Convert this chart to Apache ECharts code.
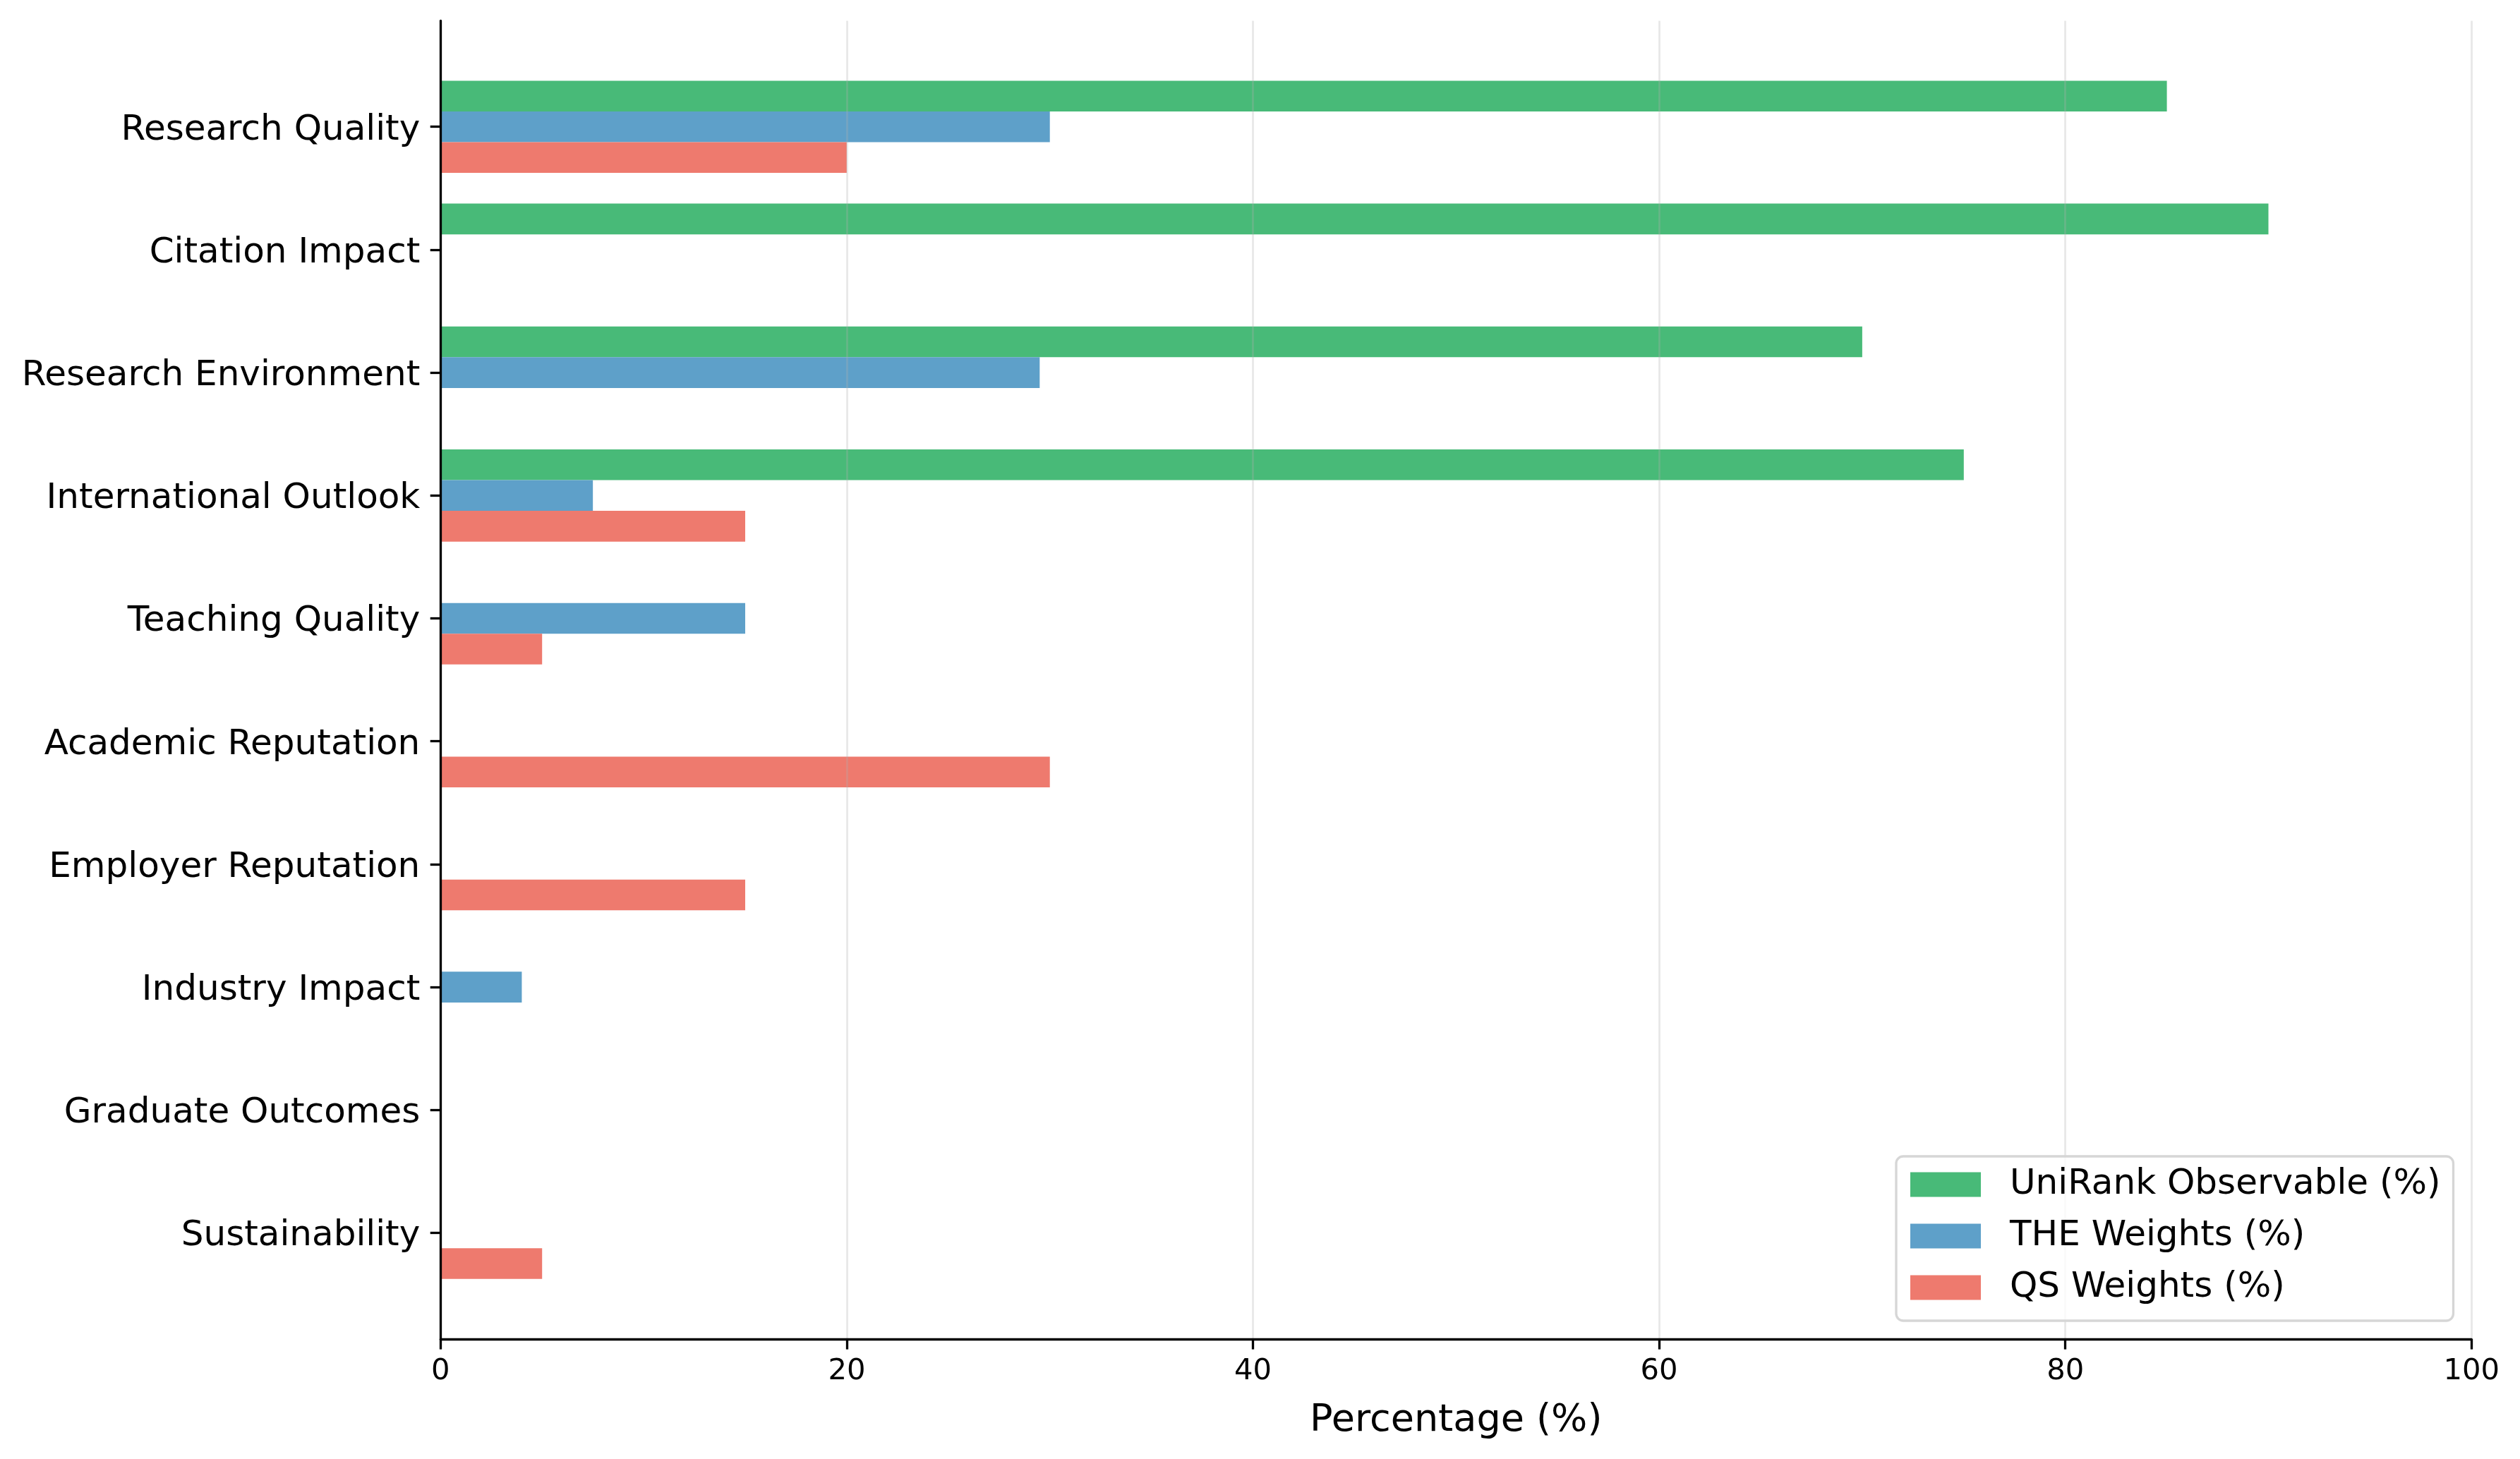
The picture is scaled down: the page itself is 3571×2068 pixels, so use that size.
<!DOCTYPE html>
<html>
<head>
<meta charset="utf-8">
<script src="https://cdn.jsdelivr.net/npm/echarts@6/dist/echarts.min.js"></script>
<style>
html,body{margin:0;padding:0;background:#fff;}
#chart{width:3571px;height:2068px;}
</style>
</head>
<body>
<div id="chart"></div>
<script>
const categories = ['Research Quality','Citation Impact','Research Environment','International Outlook','Teaching Quality','Academic Reputation','Employer Reputation','Industry Impact','Graduate Outcomes','Sustainability'];
const unirankObservable = [85, 90, 70, 75, 0, 0, 0, 0, 0, 0];
const theWeights = [30, 0, 29.5, 7.5, 15, 0, 0, 4, 0, 0];
const qsWeights = [20, 0, 0, 15, 5, 30, 15, 0, 0, 5];
const xTicks = [0, 20, 40, 60, 80, 100];
const seriesNames = ['UniRank Observable (%)', 'THE Weights (%)', 'QS Weights (%)'];
const colors = ['#48BA78', '#5EA0C9', '#EE7A6E'];

const FONT = 'DejaVu Sans';
const chart = echarts.init(document.getElementById('chart'), null, {renderer: 'canvas'});

const L = 624.3, R = 3571 - 3502.3;
const outerTop = 29.4, outerBottom = 2068 - 1898;
const catStep = 174.2;
const firstCenter = 179.7;
const innerTop = firstCenter - catStep / 2;
const innerHeight = catStep * categories.length;

chart.setOption({
  backgroundColor: '#ffffff',
  animation: false,
  textStyle: {fontFamily: FONT},
  grid: [
    {left: L, right: R, top: outerTop, bottom: outerBottom, containLabel: false},
    {left: L, right: R, top: innerTop, height: innerHeight, containLabel: false}
  ],
  xAxis: [
    {
      gridIndex: 0, type: 'value', min: xTicks[0], max: xTicks[xTicks.length - 1], interval: 20,
      z: 10,
      name: 'Percentage (%)', nameLocation: 'middle', nameGap: 89,
      nameTextStyle: {fontSize: 54, color: '#000', fontFamily: FONT},
      axisLine: {show: true, lineStyle: {color: '#000', width: 3.3}},
      axisTick: {show: true, length: 14.6, lineStyle: {color: '#000', width: 3.3}},
      axisLabel: {show: true, fontSize: 41.7, color: '#000', margin: 25, fontFamily: FONT},
      splitLine: {show: true, lineStyle: {color: 'rgba(176,176,176,0.3)', width: 2.7}}
    },
    {
      gridIndex: 1, type: 'value', min: 0, max: 100, show: false
    }
  ],
  yAxis: [
    {
      gridIndex: 0, type: 'value', min: 0, max: 1, z: 10,
      axisLine: {show: true, lineStyle: {color: '#000', width: 3.3}},
      axisTick: {show: false}, axisLabel: {show: false}, splitLine: {show: false}
    },
    {
      gridIndex: 1, type: 'category', data: categories, inverse: true,
      axisLine: {show: false},
      axisTick: {show: true, alignWithLabel: true, length: 14.6, lineStyle: {color: '#000', width: 3.3}},
      axisLabel: {show: true, interval: 0, fontSize: 50, color: '#000', margin: 29, fontFamily: FONT,
                  verticalAlign: 'top', lineHeight: 10},
      splitLine: {show: false}
    }
  ],
  legend: {
    orient: 'vertical',
    left: 2687, top: 1639,
    z: 20,
    data: seriesNames,
    icon: 'rect',
    itemWidth: 100, itemHeight: 35, itemGap: 23,
    padding: [15, 18, 22, 20],
    backgroundColor: 'rgba(255,255,255,0.8)',
    borderColor: '#d6d6d6', borderWidth: 3.3, borderRadius: 10,
    textStyle: {fontSize: 50, color: '#000', fontFamily: FONT, padding: [0, 0, 0, 36], lineHeight: 50}
  },
  series: [
    {name: seriesNames[0], type: 'bar', xAxisIndex: 1, yAxisIndex: 1, data: unirankObservable,
     itemStyle: {color: colors[0]}, barGap: '0%', barCategoryGap: '25%'},
    {name: seriesNames[1], type: 'bar', xAxisIndex: 1, yAxisIndex: 1, data: theWeights,
     itemStyle: {color: colors[1]}, barGap: '0%', barCategoryGap: '25%'},
    {name: seriesNames[2], type: 'bar', xAxisIndex: 1, yAxisIndex: 1, data: qsWeights,
     itemStyle: {color: colors[2]}, barGap: '0%', barCategoryGap: '25%'}
  ]
});
</script>
</body>
</html>
